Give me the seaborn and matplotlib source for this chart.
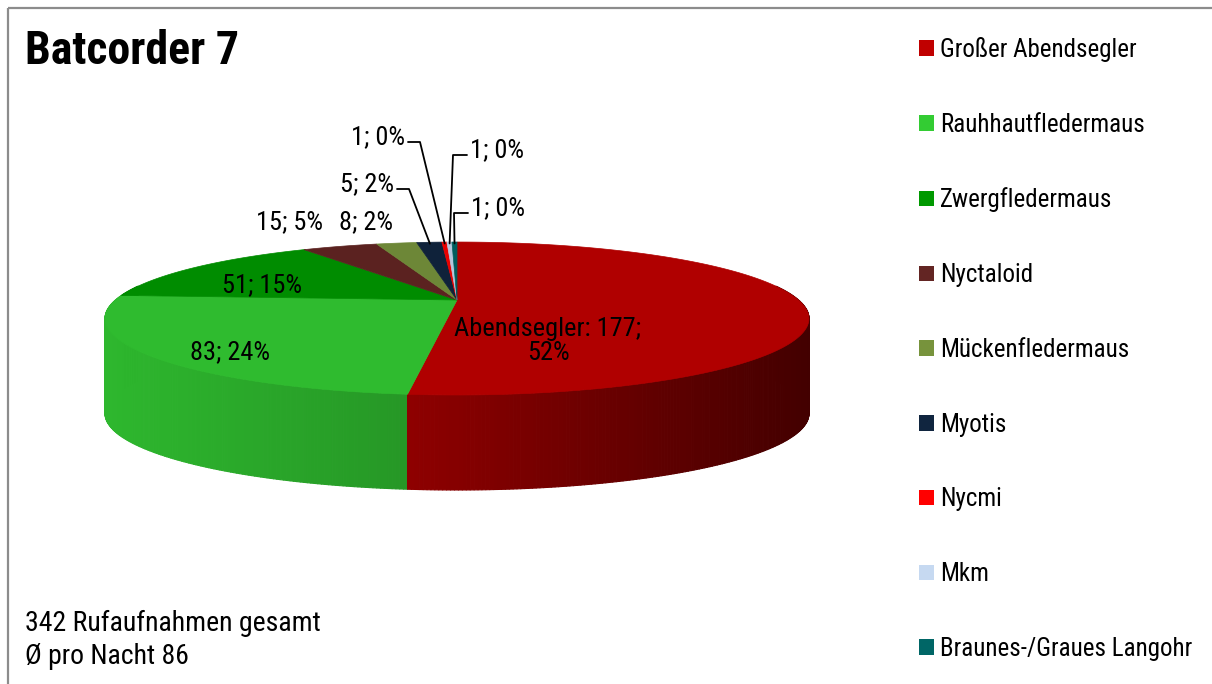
import numpy as np
import matplotlib
matplotlib.use('Agg')
import matplotlib.pyplot as plt
import seaborn as sns
from matplotlib.patches import Patch, Rectangle
from matplotlib.collections import PolyCollection
from matplotlib.colors import to_rgb


# data
SPECIES = [
    'Großer Abendsegler', 'Rauhhautfledermaus', 'Zwergfledermaus',
    'Nyctaloid', 'Mückenfledermaus', 'Myotis', 'Nycmi', 'Mkm',
    'Braunes-/Graues Langohr'
]
COUNTS = [177, 83, 51, 15, 8, 5, 1, 1, 1]
PERCENTS = [52, 24, 15, 5, 2, 2, 0, 0, 0]
LABEL_PREFIX = ['Abendsegler: ', '', '', '', '', '', '', '', '']
NIGHTS = 4
TITLE = 'Batcorder 7'

# styling
COLORS = ['#C00000', '#33CC33', '#009900', '#632523', '#77933C',
          '#10253F', '#FF0000', '#C6D9F1', '#006666']
TOP_SHADE = 0.915
LABEL_XY = [(548, 341), (230, 352), (262, 285), (290, 222), (366, 222),
            (367, 184), (378, 137), (497, 150), (498, 208)]
LEADER_SIDE = {5: 'right', 6: 'right', 7: 'left', 8: 'left'}

# pseudo 3d geometry (pixels)
CX, CY = 457, 300
A, B, K = 341.5, 72, 0.242
DEPTH = 95

sns.set_theme(style='white')
plt.rcParams['font.family'] = ['Roboto Condensed', 'DejaVu Sans']


def project(phi, r=1.0):
    """clockwise angle from 12 o'clock -> screen position"""
    p = np.radians(phi)
    u = r * np.sin(p)
    v = -r * np.cos(p)
    w = 1 - K * v
    return CX + A * u / w, CY + B * v / w, v


def side_shade(x):
    return np.interp(x, [103, 411, 808], [0.9, 0.74, 0.35])


fig = plt.figure(figsize=(12.12, 6.84), dpi=100)
ax = fig.add_axes([0, 0, 1, 1])
ax.set_xlim(0, 1212)
ax.set_ylim(684, 0)
ax.axis('off')

ax.add_patch(Rectangle((7.5, 8), 1212, 700, fill=False,
                       edgecolor='#8C8C8C', lw=1.6, zorder=0))

total = sum(COUNTS)
edges = np.concatenate([[0], np.cumsum(COUNTS)]) / total * 360

# side walls (back to front)
quads, depth, cols = [], [], []
for i in range(len(COUNTS)):
    a0, a1 = edges[i], edges[i + 1]
    n = max(2, int((a1 - a0) * 2) + 2)
    phis = np.linspace(a0, a1, n)
    base = np.array(to_rgb(COLORS[i]))
    for j in range(n - 1):
        x1, y1, v1 = project(phis[j])
        x2, y2, v2 = project(phis[j + 1])
        vm = (v1 + v2) / 2
        if vm < -0.2:
            continue
        quads.append([(x1, y1), (x2, y2), (x2, y2 + DEPTH), (x1, y1 + DEPTH)])
        depth.append(vm)
        cols.append(np.clip(base * side_shade((x1 + x2) / 2), 0, 1))

order = np.argsort(depth)
pc = PolyCollection([quads[k] for k in order],
                    facecolors=[cols[k] for k in order],
                    edgecolors=[cols[k] for k in order], linewidths=0.8, zorder=2)
ax.add_collection(pc)

# top face
for i in range(len(COUNTS)):
    a0, a1 = edges[i], edges[i + 1]
    phis = np.linspace(a0, a1, max(2, int((a1 - a0) * 2) + 2))
    xs, ys, _ = project(phis)
    xs = np.concatenate([[CX], xs])
    ys = np.concatenate([[CY], ys])
    c = np.clip(np.array(to_rgb(COLORS[i])) * TOP_SHADE, 0, 1)
    ax.fill(xs, ys, color=c, ec=c, lw=0.5, zorder=3)

# data labels
fig.canvas.draw()
renderer = fig.canvas.get_renderer()
for i, (c, p) in enumerate(zip(COUNTS, PERCENTS)):
    sep = ';\n' if LABEL_PREFIX[i] else '; '
    txt = f'{LABEL_PREFIX[i]}{c}{sep}{p}%'
    x, y = LABEL_XY[i]
    t = ax.text(x, y, txt, ha='center', va='center', fontsize=19,
                color='black', linespacing=1.05, zorder=5)
    if i in LEADER_SIDE:
        bb = t.get_window_extent(renderer).transformed(ax.transData.inverted())
        ly = y + 5
        if LEADER_SIDE[i] == 'right':
            sx = max(bb.x0, bb.x1) + 3
            ex = sx + 12
        else:
            sx = min(bb.x0, bb.x1) - 3
            ex = sx - 14
        tx, ty, _ = project((edges[i] + edges[i + 1]) / 2, 0.97)
        ax.plot([sx, ex, tx], [ly, ly, ty], color='black', lw=1.3, zorder=4)

ax.text(25, 51, TITLE, fontsize=33, fontweight='bold', ha='left', va='center',
        color='black')
ax.text(25, 640, f'{total} Rufaufnahmen gesamt\nØ pro Nacht {int(total / NIGHTS + 0.5)}',
        fontsize=20, ha='left', va='center', linespacing=1.25, color='black')

handles = [Patch(facecolor=c, edgecolor='none') for c in COLORS]
leg = ax.legend(handles, SPECIES, loc='upper left', bbox_to_anchor=(919, 37),
                bbox_transform=ax.transData, frameon=False, fontsize=18,
                handlelength=0.58, handleheight=0.58, handletextpad=0.25,
                labelspacing=2.03, borderaxespad=0, borderpad=0)
for t in leg.get_texts():
    t.set_color('black')

fig.savefig('out.png', dpi=100)
